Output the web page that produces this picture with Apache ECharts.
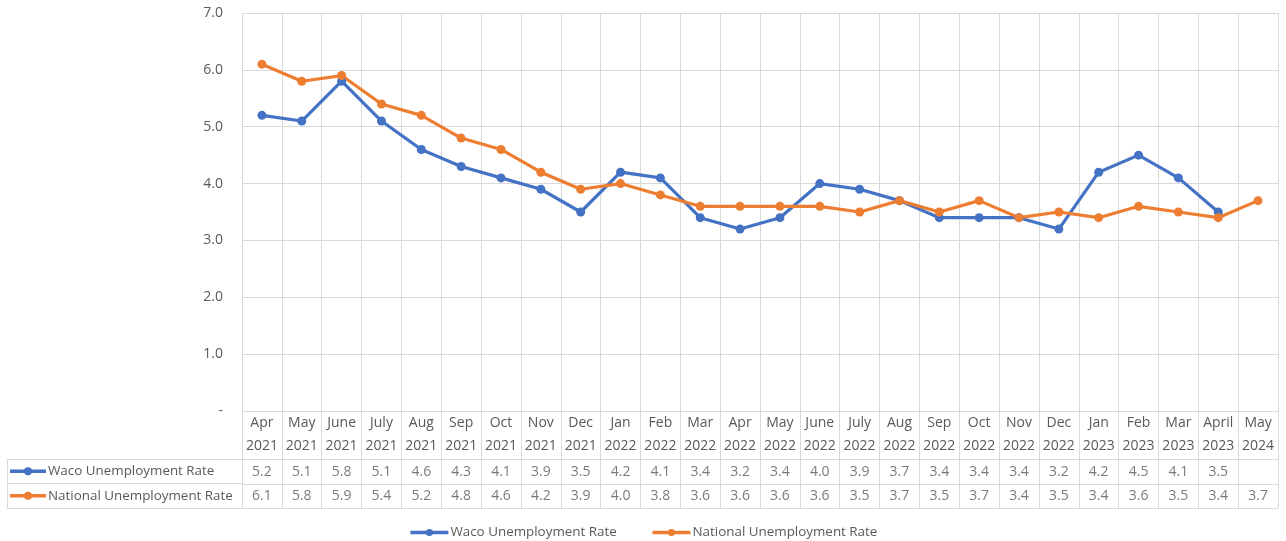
<!DOCTYPE html>
<html>
<head>
<meta charset="utf-8">
<script src="https://cdn.jsdelivr.net/npm/echarts@6/dist/echarts.min.js"></script>
<style>html,body{margin:0;padding:0;background:#fff}#c{width:1286px;height:541px}</style>
</head>
<body>
<div id="c"></div>
<script>
const months = ['Apr\n2021','May\n2021','June\n2021','July\n2021','Aug\n2021','Sep\n2021','Oct\n2021','Nov\n2021','Dec\n2021','Jan\n2022','Feb\n2022','Mar\n2022','Apr\n2022','May\n2022','June\n2022','July\n2022','Aug\n2022','Sep\n2022','Oct\n2022','Nov\n2022','Dec\n2022','Jan\n2023','Feb\n2023','Mar\n2023','April\n2023','May\n2024'];
const waco = [5.2,5.1,5.8,5.1,4.6,4.3,4.1,3.9,3.5,4.2,4.1,3.4,3.2,3.4,4.0,3.9,3.7,3.4,3.4,3.4,3.2,4.2,4.5,4.1,3.5,null];
const national = [6.1,5.8,5.9,5.4,5.2,4.8,4.6,4.2,3.9,4.0,3.8,3.6,3.6,3.6,3.6,3.5,3.7,3.5,3.7,3.4,3.5,3.4,3.6,3.5,3.4,3.7];
const seriesNames = ['Waco Unemployment Rate','National Unemployment Rate'];
const yTicks = [0,1,2,3,4,5,6,7];

const BLUE = '#4472C4', ORANGE = '#ED7D31', GRID = '#d9d9d9', TXT = '#595959';
const FONT = 'Open Sans';
const FS = 14, FS_NAME = 13.4;
function keyImg(c){
  const s = "<svg xmlns='http://www.w3.org/2000/svg' width='36' height='10'><line x1='0' y1='5' x2='36' y2='5' stroke='"+c+"' stroke-width='3.5'/><circle cx='18' cy='5' r='4' fill='"+c+"'/></svg>";
  return 'data:image/svg+xml;charset=utf-8,' + encodeURIComponent(s);
}
const chart = echarts.init(document.getElementById('c'), null, {renderer:'canvas'});
const tableRows = seriesNames.slice().reverse();
const option = {
  animation:false,
  textStyle:{fontFamily:FONT, color:TXT},
  grid:[
    {left:242, right:8, top:13, height:398},
    {left:242, right:8, top:411, height:97},
    {left:7, width:235, top:459, height:49}
  ],
  xAxis:[
    {type:'category', gridIndex:0, data:months, boundaryGap:true,
     axisLine:{show:true, lineStyle:{color:GRID}}, axisTick:{show:false},
     splitLine:{show:true, lineStyle:{color:GRID}},
     axisLabel:{color:TXT, fontFamily:FONT, fontSize:FS, lineHeight:23, margin:1, interval:0}},
    {type:'category', gridIndex:1, data:months, boundaryGap:true,
     axisLine:{show:false}, axisTick:{show:false}, axisLabel:{show:false},
     splitLine:{show:true, lineStyle:{color:GRID}}},
    {type:'value', gridIndex:2, min:0, max:1, interval:1,
     axisLine:{show:false}, axisTick:{show:false}, axisLabel:{show:false},
     splitLine:{show:true, lineStyle:{color:GRID}}}
  ],
  yAxis:[
    {type:'value', gridIndex:0, min:yTicks[0], max:yTicks[yTicks.length-1], interval:1,
     axisLine:{show:false}, axisTick:{show:false},
     splitLine:{show:true, lineStyle:{color:GRID}},
     axisLabel:{color:TXT, fontFamily:FONT, fontSize:FS, margin:19,
       formatter:v => v===0 ? '-' : v.toFixed(1)}},
    {type:'value', gridIndex:1, min:0, max:4, interval:1,
     axisLine:{show:false}, axisTick:{show:false}, axisLabel:{show:false},
     splitLine:{show:true, lineStyle:{color:[GRID,GRID,GRID,'rgba(0,0,0,0)',GRID]}}},
    {type:'category', gridIndex:2, data:tableRows, boundaryGap:true,
     axisLine:{show:false}, axisTick:{show:false},
     splitLine:{show:true, lineStyle:{color:GRID}},
     axisLabel:{inside:true, margin:3, color:TXT, fontFamily:FONT, fontSize:FS_NAME, interval:0,
       formatter:(v) => (v===seriesNames[0] ? '{kb|}' : '{ko|}') + '{t|' + v + '}',
       rich:{
         kb:{width:36, height:10, backgroundColor:{image:keyImg(BLUE)}},
         ko:{width:36, height:10, backgroundColor:{image:keyImg(ORANGE)}},
         t:{color:TXT, fontFamily:FONT, fontSize:FS_NAME, padding:[0,0,0,2]}
       }}}
  ],
  legend:{
    left:'center', top:521, itemWidth:38, itemHeight:9, itemGap:34,
    textStyle:{color:TXT, fontFamily:FONT, fontSize:FS_NAME, padding:[0,0,0,-3]},
    lineStyle:{width:3.5},
    data:seriesNames
  },
  series:[
    {name:seriesNames[0], type:'line', xAxisIndex:0, yAxisIndex:0, data:waco,
     symbol:'circle', symbolSize:9, color:BLUE, lineStyle:{width:3.2}, itemStyle:{color:BLUE}},
    {name:seriesNames[1], type:'line', xAxisIndex:0, yAxisIndex:0, data:national,
     symbol:'circle', symbolSize:9, color:ORANGE, lineStyle:{width:3.2}, itemStyle:{color:ORANGE}},
    {type:'scatter', xAxisIndex:1, yAxisIndex:1, symbolSize:1, itemStyle:{color:'rgba(0,0,0,0)'},
     silent:true,
     data:waco.map((v,i)=> v==null ? null : [i,1.5,v]).filter(d=>d),
     label:{show:true, position:'inside', color:TXT, fontFamily:FONT, fontSize:FS,
       formatter:p => p.value[2].toFixed(1)}},
    {type:'scatter', xAxisIndex:1, yAxisIndex:1, symbolSize:1, itemStyle:{color:'rgba(0,0,0,0)'},
     silent:true,
     data:national.map((v,i)=> [i,0.5,v]),
     label:{show:true, position:'inside', color:TXT, fontFamily:FONT, fontSize:FS,
       formatter:p => p.value[2].toFixed(1)}}
  ]
};
chart.setOption(option);
</script>
</body>
</html>
